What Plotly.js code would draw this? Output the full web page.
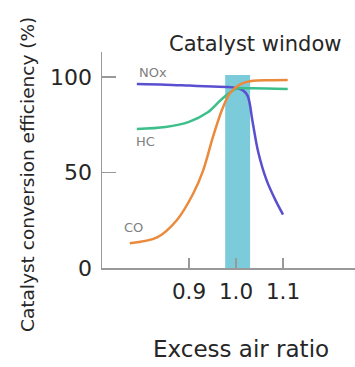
<!DOCTYPE html>
<html>
<head>
<meta charset="utf-8">
<script src="https://cdn.plot.ly/plotly-3.0.1.min.js"></script>
<style>
  html, body { margin: 0; padding: 0; background: #fff; }
  #chart { width: 355px; height: 367px; }
</style>
</head>
<body>
<div id="chart"></div>
<script>
// Conversion efficiency of a three-way catalyst versus excess air ratio
const noxX = [0.789, 0.85, 0.90, 0.95, 0.98, 1.0, 1.015, 1.025, 1.035, 1.047, 1.065, 1.085, 1.10];
const noxY = [96.3, 96.0, 95.5, 95.0, 94.8, 94.3, 93.0, 90.0, 77.0, 61.0, 46.0, 35.0, 28.0];

const hcX = [0.789, 0.85, 0.90, 0.94, 0.97, 1.0, 1.03, 1.11];
const hcY = [72.8, 73.8, 76.5, 81.5, 88.5, 93.8, 94.1, 93.7];

const coX = [0.774, 0.832, 0.874, 0.909, 0.93, 0.951, 0.97, 0.987, 1.008, 1.036, 1.07, 1.11];
const coY = [13.0, 16.0, 25.0, 39.0, 51.0, 68.6, 82.7, 91.5, 96.0, 98.0, 98.3, 98.4];

// Catalyst window band on the excess air ratio axis
const windowX = [0.977, 1.030];
const windowTop = 101;

const xTicks = [0.9, 1.0, 1.1];
const xTickText = ['0.9', '1.0', '1.1'];
const yTicks = [0, 50, 100];

const seriesNames = ['NOx', 'HC', 'CO'];
const xTitle = 'Excess air ratio';
const yTitle = 'Catalyst conversion efficiency (%)';
const windowLabel = 'Catalyst window';

const FONT = 'DejaVu Sans, Arial, sans-serif';
const INK = '#262626';

const traces = [
  { x: noxX, y: noxY, name: seriesNames[0], mode: 'lines',
    line: { color: '#5a4fcf', width: 2.5, shape: 'spline', smoothing: 1 } },
  { x: hcX, y: hcY, name: seriesNames[1], mode: 'lines',
    line: { color: '#3dbf8c', width: 2.5, shape: 'spline', smoothing: 1 } },
  { x: coX, y: coY, name: seriesNames[2], mode: 'lines',
    line: { color: '#ec8a3c', width: 2.5, shape: 'spline', smoothing: 0.9 } }
];

const labelFont = { family: FONT, size: 13, color: '#808080' };

// plot area in pixels: left 102, top 52, width 253, height 216
const W = 253, H = 216, L = 102, T = 52;
const px = v => (v - L) / W;
const py = v => 1 - (v - T) / H;

const layout = {
  width: 355, height: 367,
  margin: { l: L, r: 0, t: T, b: 99 },
  paper_bgcolor: '#ffffff',
  plot_bgcolor: '#ffffff',
  showlegend: false,
  xaxis: {
    range: [0.7149, 1.2532],
    tickvals: xTicks, ticktext: xTickText,
    ticks: 'inside', ticklen: 10, tickwidth: 1.5, tickcolor: '#999',
    showline: true, linecolor: '#999', linewidth: 1.5,
    showgrid: false, zeroline: false,
    tickfont: { family: FONT, size: 21.5, color: INK },
    ticklabelstandoff: 4
  },
  yaxis: {
    range: [0, 113.1],
    tickvals: yTicks,
    ticks: 'inside', ticklen: 14, tickwidth: 1.5, tickcolor: '#999',
    showline: true, linecolor: '#999', linewidth: 1.5,
    showgrid: false, zeroline: false,
    tickfont: { family: FONT, size: 22, color: INK },
    ticklabelstandoff: 4
  },
  shapes: [
    { type: 'rect', xref: 'x', yref: 'y', layer: 'below',
      x0: windowX[0], x1: windowX[1], y0: 0, y1: windowTop,
      fillcolor: '#7ccbdb', line: { width: 0 } }
  ],
  annotations: [
    // axis titles
    { text: xTitle, xref: 'paper', yref: 'paper', x: px(241), y: py(349),
      xanchor: 'center', yanchor: 'middle', showarrow: false,
      font: { family: FONT, size: 23, color: INK } },
    { text: yTitle, xref: 'paper', yref: 'paper', x: px(27), y: py(175), textangle: -90,
      xanchor: 'center', yanchor: 'middle', showarrow: false,
      font: { family: FONT, size: 18.5, color: INK } },
    // title over the catalyst window
    { text: windowLabel, xref: 'paper', yref: 'paper', x: px(254.5), y: py(44),
      xanchor: 'center', yanchor: 'middle', showarrow: false,
      font: { family: FONT, size: 21, color: INK } },
    // curve labels
    { text: seriesNames[0], xref: 'x', yref: 'y', x: noxX[0], y: noxY[0],
      xanchor: 'left', yanchor: 'bottom', xshift: 0, yshift: 2, showarrow: false, font: labelFont },
    { text: seriesNames[1], xref: 'x', yref: 'y', x: hcX[0], y: hcY[0],
      xanchor: 'left', yanchor: 'top', xshift: -3, yshift: -3, showarrow: false, font: labelFont },
    { text: seriesNames[2], xref: 'x', yref: 'y', x: coX[0], y: coY[0],
      xanchor: 'left', yanchor: 'bottom', xshift: -8, yshift: 6, showarrow: false, font: labelFont }
  ]
};

Plotly.newPlot('chart', traces, layout, { displayModeBar: false, staticPlot: true });
</script>
</body>
</html>
